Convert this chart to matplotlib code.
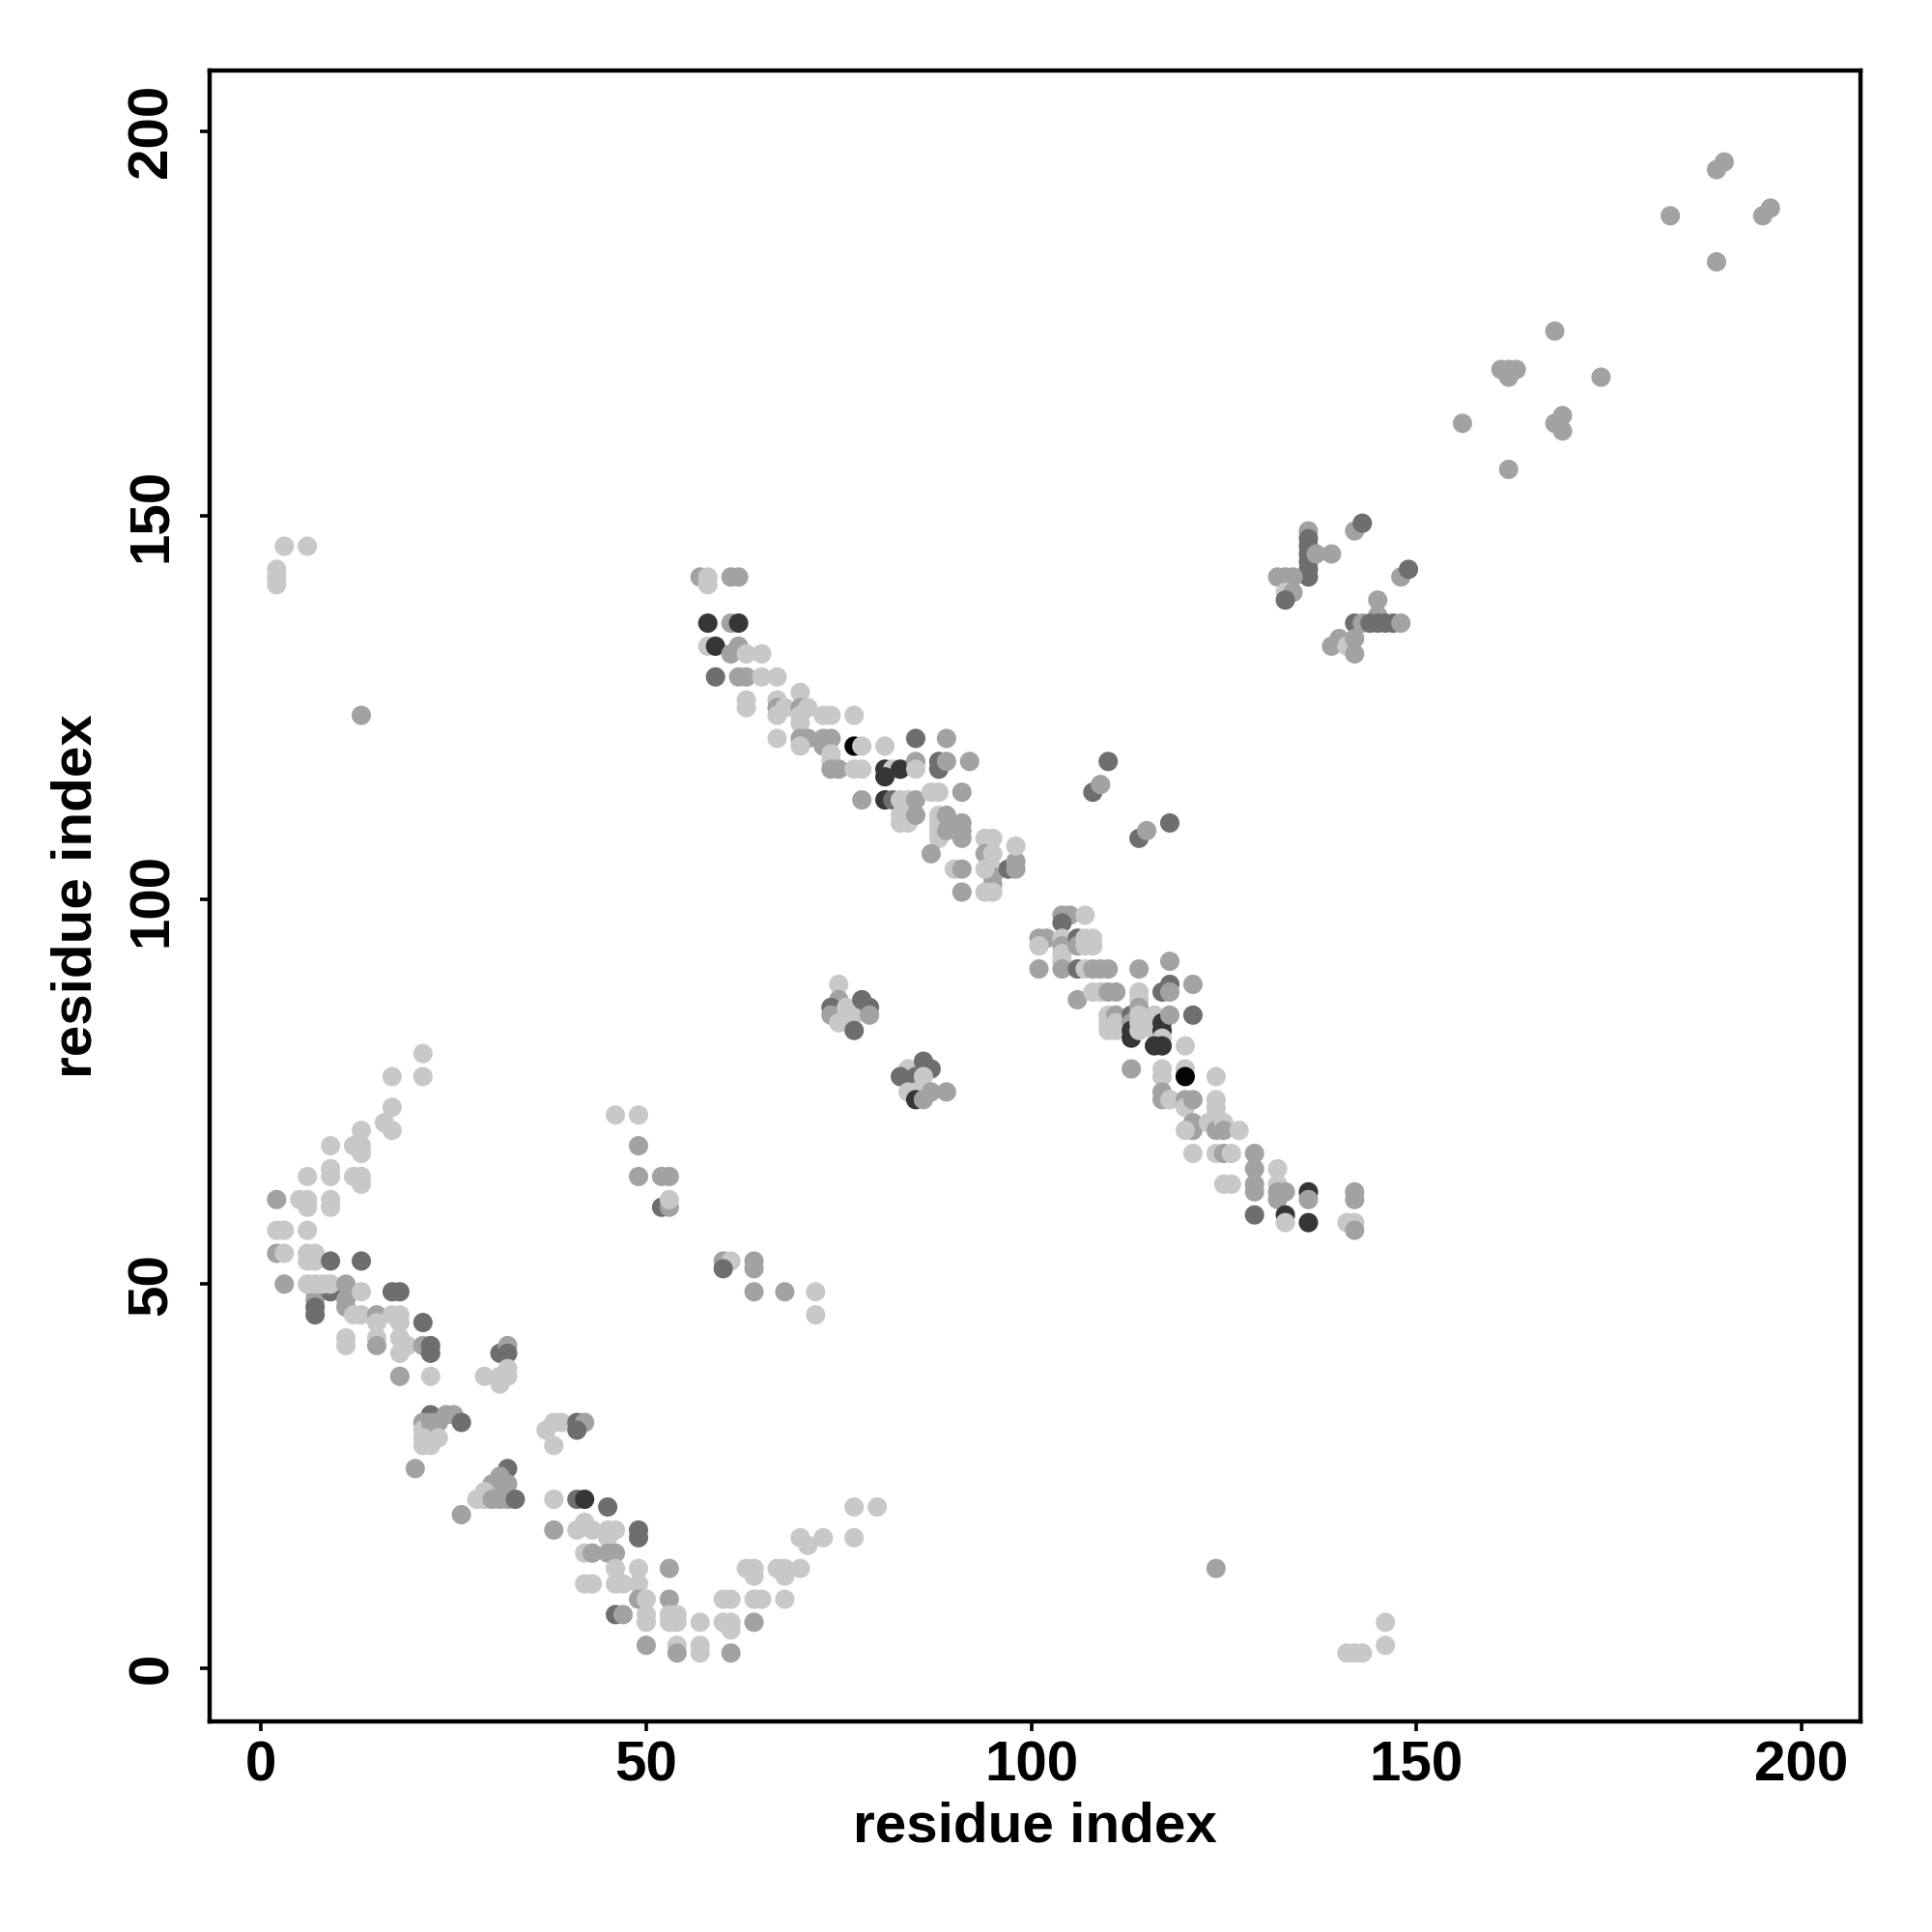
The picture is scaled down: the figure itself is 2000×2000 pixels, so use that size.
import matplotlib
matplotlib.use("Agg")
import matplotlib.pyplot as plt

# shade codes: L light, M medium, D dark, K very dark, B black
shade_colors = {"L": "#c8c8c8", "M": "#a2a2a2", "D": "#6e6e6e", "K": "#363636", "B": "#050505"}

# lower-left band (residue i, residue j, shade)
band_low = [
    (21,80,"L"),(17,77,"L"),(21,77,"L"),(17,73,"L"),(16,71,"L"),(17,70,"L"),(13,70,"L"),
    (9,68,"L"),(12,68,"L"),(13,68,"L"),(13,67,"L"),
    (9,65,"L"),(9,64,"L"),(6,64,"L"),(12,64,"L"),(13,64,"L"),(13,63,"L"),
    (2,61,"M"),(5,61,"L"),(6,61,"L"),(6,60,"L"),(9,61,"L"),(9,60,"L"),
    (2,57,"L"),(3,57,"L"),(6,57,"L"),
    (2,54,"M"),(3,54,"L"),(6,54,"L"),(7,54,"L"),(6,53,"L"),(7,53,"L"),(9,53,"D"),(13,53,"D"),
    (3,50,"M"),(7,49,"M"),(7,48,"M"),(7,47,"D"),(7,46,"D"),(6,50,"L"),(7,50,"L"),
    (9,49,"D"),(8,50,"L"),(9,50,"L"),(11,50,"M"),(11,48,"M"),(11,47,"M"),(12,46,"L"),(13,46,"L"),(13,49,"L"),
    (15,46,"M"),(15,45,"L"),(17,49,"D"),(18,49,"D"),(17,46,"L"),(18,46,"L"),(18,45,"L"),(21,45,"D"),
    (11,43,"L"),(11,42,"L"),(15,43,"L"),(15,42,"M"),(18,43,"L"),(19,42,"L"),(18,41,"L"),
    (21,42,"M"),(22,42,"D"),(22,41,"D"),
    (18,38,"M"),(22,38,"L"),(29,38,"L"),(31,38,"L"),(31,37,"L"),
    (31,41,"D"),(32,42,"M"),(32,41,"D"),(32,39,"L"),(32,38,"L"),
    (22,33,"D"),(21,32,"M"),(21,31,"L"),(21,29,"L"),(22,32,"M"),(23,32,"M"),(24,33,"M"),(25,33,"M"),
    (26,32,"D"),(20,26,"M"),(21,30,"L"),(22,29,"L"),(23,30,"L"),
    (32,26,"D"),(31,25,"M"),(30,24,"M"),(32,24,"M"),(31,23,"M"),(29,23,"L"),(28,22,"L"),(29,22,"L"),
    (30,22,"M"),(31,22,"M"),(32,22,"M"),(33,22,"D"),(26,20,"M"),
    (37,31,"L"),(38,32,"L"),(39,32,"L"),(38,29,"L"),(41,32,"D"),(42,32,"M"),(41,31,"D"),
    (38,22,"L"),(41,22,"D"),(42,22,"K"),(45,21,"D"),(38,18,"M"),
    (41,18,"L"),(42,19,"L"),(43,18,"L"),(45,18,"L"),(46,18,"L"),(45,17,"L"),(49,18,"D"),(49,17,"D"),
    (42,15,"L"),(43,15,"M"),(45,15,"M"),(46,15,"M"),
    (46,13,"L"),(49,13,"L"),(53,13,"M"),
    (42,11,"L"),(43,11,"L"),(46,11,"L"),(47,11,"L"),(49,11,"L"),
    (49,9,"M"),(50,9,"L"),(53,9,"M"),
    (46,7,"D"),(47,7,"M"),(50,7,"L"),(50,6,"L"),(53,7,"L"),(54,7,"L"),(53,6,"L"),(54,6,"L"),
    (57,6,"L"),(60,6,"L"),(61,6,"L"),(61,5,"L"),(64,6,"M"),
    (50,3,"M"),(54,3,"L"),(54,2,"M"),(57,3,"L"),(57,2,"L"),(61,2,"M"),
    (60,9,"L"),(61,9,"L"),(64,9,"L"),(65,9,"L"),(68,9,"L"),
    (63,13,"L"),(64,13,"L"),(64,12,"L"),(67,13,"L"),(68,13,"L"),(68,12,"L"),(70,13,"L"),
    (70,17,"L"),(71,16,"L"),(73,17,"L"),(77,17,"L"),(77,21,"L"),(80,21,"L"),
]

# middle sheet contacts
band_mid = [
    (46,72,"L"),(49,72,"L"),(49,68,"M"),(49,64,"M"),(52,64,"M"),(53,64,"M"),
    (52,60,"D"),(53,60,"M"),(53,61,"L"),
    (60,53,"M"),(61,53,"L"),(60,52,"D"),(64,53,"M"),(64,52,"M"),(64,49,"M"),(68,49,"M"),
    (72,49,"L"),(72,46,"L"),
]

clusters = [
    (75,89,"L"),(75,87,"M"),(74,86,"D"),(74,85,"M"),(75,84,"L"),(76,86,"L"),(76,85,"L"),
    (77,85,"L"),(77,83,"D"),(78,87,"D"),(79,86,"D"),(79,85,"M"),
    (84,78,"L"),(86,79,"D"),(87,78,"D"),(83,77,"D"),(85,77,"D"),(86,77,"L"),
    (84,75,"L"),(85,75,"L"),(87,75,"M"),(89,75,"M"),(85,74,"K"),(86,74,"M"),
]

# upper anti-parallel band
band_up = [
    (57,142,"M"),(58,142,"L"),(58,141,"L"),(61,142,"M"),(62,142,"M"),
    (58,136,"K"),(61,136,"M"),(62,136,"K"),
    (58,133,"L"),(59,133,"K"),(62,133,"M"),(61,132,"M"),(63,132,"L"),(65,132,"L"),
    (59,129,"D"),(62,129,"M"),(63,129,"M"),(65,129,"L"),(67,129,"L"),
    (63,126,"L"),(63,125,"L"),(67,126,"L"),(67,125,"M"),(67,124,"L"),(68,125,"L"),
    (70,127,"L"),(70,125,"M"),(70,124,"L"),(70,123,"L"),(71,125,"L"),
    (73,124,"L"),(74,124,"L"),(77,124,"L"),
    (67,121,"L"),(70,121,"M"),(71,121,"M"),(70,120,"L"),(73,121,"M"),(74,121,"M"),(73,120,"M"),
    (74,119,"L"),(74,118,"L"),(74,117,"M"),(75,117,"M"),
    (77,120,"B"),(78,120,"L"),(81,120,"L"),(85,121,"D"),(89,121,"M"),
    (77,117,"L"),(78,117,"L"),(81,117,"K"),(82,117,"L"),(83,117,"K"),(81,116,"K"),
    (85,118,"M"),(85,117,"L"),(88,118,"D"),(88,117,"D"),(89,118,"M"),(92,118,"M"),
    (78,113,"M"),(81,113,"K"),(82,113,"D"),(83,113,"L"),(83,111,"L"),(83,110,"L"),
    (84,113,"L"),(84,110,"L"),(85,113,"M"),(85,111,"M"),
    (87,114,"L"),(88,114,"L"),(91,114,"M"),
    (88,111,"L"),(88,110,"L"),(88,109,"L"),(88,108,"L"),(89,111,"M"),(89,109,"M"),
    (91,110,"M"),(91,109,"M"),(91,108,"M"),
    (87,106,"M"),(90,104,"L"),(91,104,"M"),(91,101,"M"),
    (94,108,"L"),(95,108,"L"),(94,106,"M"),(95,106,"L"),(95,104,"L"),(95,103,"M"),
    (95,102,"M"),(95,101,"L"),(94,104,"L"),(94,101,"L"),
    (97,104,"D"),(98,105,"M"),(98,104,"M"),(98,107,"L"),
]

# lower anti-parallel band
band_right = [
    (104,98,"M"),(105,98,"M"),(107,98,"L"),(104,97,"D"),
    (101,95,"M"),(102,95,"M"),(101,94,"L"),
    (104,95,"L"),(104,94,"M"),(104,93,"L"),(104,92,"L"),(104,91,"M"),
    (106,95,"D"),(106,94,"M"),(107,95,"L"),(108,95,"L"),(107,94,"L"),(108,94,"L"),
    (101,91,"M"),(106,91,"D"),(107,91,"L"),(108,91,"M"),(109,91,"M"),(110,91,"M"),
    (106,87,"M"),(108,88,"L"),(109,88,"L"),(110,88,"M"),(111,88,"M"),
    (114,91,"M"),(118,92,"M"),(118,89,"D"),(117,88,"D"),(118,88,"M"),(121,89,"M"),
    (110,85,"L"),(110,84,"L"),(110,83,"L"),(111,85,"M"),(111,84,"L"),(111,83,"L"),
    (113,85,"D"),(113,84,"M"),(113,83,"K"),(113,82,"K"),
    (114,88,"L"),(114,87,"L"),(114,86,"M"),(114,85,"L"),(114,84,"L"),(114,83,"L"),
    (116,85,"L"),(116,84,"L"),(116,83,"L"),(117,84,"K"),(117,83,"K"),(117,82,"L"),
    (117,81,"K"),(116,81,"K"),
    (118,85,"M"),(121,85,"D"),(120,81,"L"),
    (113,78,"M"),(117,78,"L"),(117,77,"L"),(120,78,"L"),(120,77,"B"),(124,77,"L"),
    (117,75,"M"),(117,74,"M"),(118,74,"L"),(120,74,"M"),(120,73,"L"),(121,74,"M"),
    (124,74,"L"),(124,73,"L"),(124,72,"L"),
    (121,71,"M"),(121,70,"M"),(120,70,"L"),(123,71,"L"),(124,70,"M"),(125,71,"L"),
    (125,70,"M"),(127,70,"L"),
    (121,67,"L"),(124,67,"L"),(125,67,"M"),(126,67,"L"),(129,67,"M"),(129,65,"M"),
    (125,63,"L"),(126,63,"L"),(129,63,"M"),(129,62,"M"),
    (132,65,"L"),(132,63,"L"),(132,62,"M"),(132,61,"M"),(133,62,"M"),
    (136,62,"K"),(136,61,"M"),
    (129,59,"D"),(133,59,"K"),(133,58,"L"),(136,58,"K"),
    (142,62,"M"),(142,61,"M"),(141,58,"L"),(142,58,"L"),(142,57,"M"),
]

band_c = [
    (136,148,"M"),(136,147,"D"),(136,146,"D"),(136,145,"D"),(136,144,"D"),(136,143,"D"),(136,142,"D"),
    (137,145,"M"),(139,145,"M"),
    (142,148,"M"),(143,149,"D"),(148,142,"M"),(149,143,"D"),
    (132,142,"M"),(133,142,"M"),(134,142,"M"),(133,140,"L"),(134,140,"M"),(133,139,"D"),
    (145,139,"M"),(145,137,"M"),
    (142,136,"D"),(143,136,"M"),(144,136,"D"),(145,136,"D"),(146,136,"D"),(147,136,"D"),(148,136,"M"),
    (139,133,"M"),(140,134,"M"),(141,133,"L"),(142,134,"M"),(142,132,"M"),
]

isolated = [
    (3,146,"L"),(6,146,"L"),(2,143,"L"),(2,142,"L"),(2,141,"L"),
    (13,124,"M"),
    (108,114,"D"),(109,115,"M"),(110,118,"D"),
    (114,108,"D"),(115,109,"M"),(118,110,"D"),
    (124,13,"M"),
    (141,2,"L"),(142,2,"L"),(143,2,"L"),(146,3,"L"),(146,6,"L"),
]

band_tail = [
    (190,196,"M"),(189,195,"M"),(196,190,"M"),(195,189,"M"),(183,189,"M"),(189,183,"M"),
    (168,174,"M"),(174,168,"M"),(161,169,"M"),(162,169,"M"),(163,169,"M"),(162,168,"M"),
    (156,162,"M"),(168,162,"M"),(169,163,"M"),(169,161,"M"),(162,156,"M"),
]

x_ticks = [0, 50, 100, 150, 200]
y_ticks = [0, 50, 100, 150, 200]
x_label = "residue index"
y_label = "residue index"

groups = [band_low, band_mid, clusters, band_up, band_right, band_c, isolated, band_tail]
res_i, res_j, cols = [], [], []
for g in groups:
    for a, b, s in g:
        res_i.append(a)
        res_j.append(b)
        cols.append(shade_colors[s])

plt.rcParams["font.family"] = ["Liberation Sans", "DejaVu Sans"]
plt.rcParams["font.weight"] = "bold"

fig = plt.figure(figsize=(10, 10), dpi=200)
ax = fig.add_axes([0.1085, 0.109, 0.8545, 0.8545])
ax.scatter(res_i, res_j, s=52, c=cols, linewidths=0)

ax.set_xlim(-6.7, 207.7)
ax.set_ylim(-6.9, 207.9)
ax.set_xticks(x_ticks)
ax.set_yticks(y_ticks)
ax.set_xticklabels([str(t) for t in x_ticks], fontsize=21, fontweight="bold")
ax.set_yticklabels([str(t) for t in y_ticks], fontsize=21, fontweight="bold",
                   rotation=90, va="center")
ax.tick_params(axis="both", direction="out", length=3.6, width=1.3, color="black")
ax.tick_params(axis="x", pad=3.5)
ax.tick_params(axis="y", pad=8)
for sp in ax.spines.values():
    sp.set_linewidth(1.6)
    sp.set_color("black")

ax.set_xlabel(x_label, fontsize=21, fontweight="bold")
ax.set_ylabel(y_label, fontsize=21, fontweight="bold")
ax.xaxis.set_label_coords(0.5, -0.0638)
ax.xaxis.label.set_va("center")
ax.yaxis.set_label_coords(-0.0807, 0.5)
ax.yaxis.label.set_va("center")
ax.yaxis.label.set_ha("center")

fig.savefig("out.png", dpi=200, facecolor="white")
